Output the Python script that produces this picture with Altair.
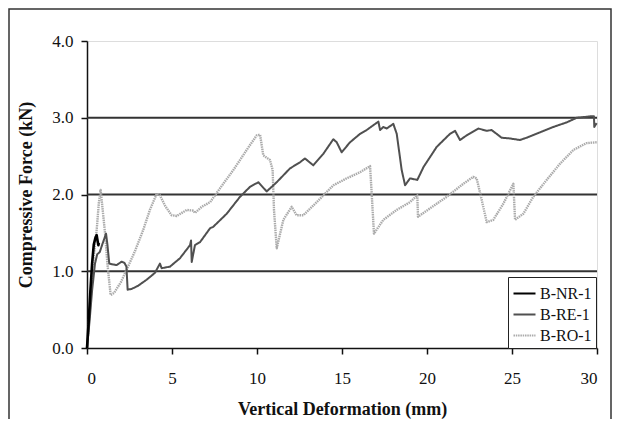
import altair as alt
import pandas as pd

# ---- data ----
nr_x = [0, 0.1, 0.2, 0.3, 0.4, 0.5, 0.57, 0.62, 0.67, 0.7]
nr_y = [0, 0.35, 0.75, 1.1, 1.35, 1.44, 1.47, 1.40, 1.34, 1.37]

re_x = [0, 0.15, 0.3, 0.47, 0.6, 0.75, 0.9, 1.12, 1.2, 1.31, 1.5, 1.74, 2.04, 2.2, 2.32, 2.39,
        2.63, 3.0, 3.51, 4.0, 4.29, 4.39, 4.88, 5.47, 6.06, 6.12, 6.16, 6.35, 6.65, 7.24, 7.43,
        8.22, 9.0, 9.59, 10.08, 10.57, 11.16, 11.94, 12.53, 12.82, 13.31, 13.9, 14.49, 14.69,
        14.98, 15.47, 16.06, 16.45, 17.14, 17.24, 17.43, 17.63, 18.02, 18.22, 18.51, 18.71,
        19.0, 19.43, 19.8, 20.57, 21.35, 21.65, 21.94, 22.33, 23.02, 23.51, 23.8, 24.39, 24.88,
        25.47, 25.86, 26.65, 27.43, 28.22, 28.81, 29.69, 29.82, 29.84, 29.98]
re_y = [0, 0.35, 0.75, 1.10, 1.22, 1.25, 1.35, 1.49, 1.35, 1.10, 1.09, 1.08, 1.125, 1.11, 1.06,
        0.76, 0.77, 0.81, 0.89, 0.98, 1.10, 1.04, 1.06, 1.17, 1.34, 1.40, 1.12, 1.34, 1.38,
        1.56, 1.58, 1.75, 1.97, 2.10, 2.16, 2.04, 2.16, 2.34, 2.42, 2.47, 2.38, 2.53, 2.72,
        2.68, 2.55, 2.68, 2.79, 2.84, 2.95, 2.84, 2.88, 2.86, 2.92, 2.79, 2.32, 2.12, 2.21,
        2.19, 2.36, 2.62, 2.79, 2.83, 2.71, 2.77, 2.86, 2.83, 2.84, 2.74, 2.73, 2.71, 2.74,
        2.81, 2.88, 2.94, 3.0, 3.02, 3.02, 2.88, 2.93]

ro_x = [0, 0.2, 0.4, 0.57, 0.7, 0.8, 0.9, 1.06, 1.2, 1.39, 1.6, 2.0, 2.33, 2.8, 3.31, 3.7,
        4.10, 4.29, 4.6, 4.98, 5.28, 5.87, 6.25, 6.35, 6.75, 7.24, 7.82, 8.61, 9.39, 9.98,
        10.18, 10.37, 10.76, 10.92, 11.0, 11.16, 11.55, 12.04, 12.33, 12.73, 13.51, 14.49,
        15.27, 16.06, 16.65, 16.75, 16.88, 17.43, 18.22, 19.0, 19.43, 19.47, 20.18, 21.16,
        22.14, 22.72, 22.92, 23.22, 23.51, 23.9, 24.49, 25.08, 25.18, 25.67, 26.25, 27.04,
        27.82, 28.61, 29.39, 29.98]
ro_y = [0, 0.6, 1.2, 1.54, 1.9, 2.06, 1.85, 1.50, 1.1, 0.69, 0.72, 0.86, 1.02, 1.25, 1.54,
        1.80, 2.01, 1.99, 1.85, 1.73, 1.72, 1.80, 1.79, 1.76, 1.84, 1.90, 2.08, 2.32, 2.58,
        2.77, 2.78, 2.51, 2.45, 2.32, 1.8, 1.30, 1.67, 1.84, 1.73, 1.73, 1.90, 2.12, 2.21,
        2.29, 2.37, 2.0, 1.49, 1.67, 1.80, 1.90, 1.99, 1.71, 1.82, 1.97, 2.14, 2.23, 2.21,
        1.93, 1.64, 1.67, 1.88, 2.14, 1.67, 1.75, 1.97, 2.19, 2.40, 2.58, 2.67, 2.68]

series_names = ["B-NR-1", "B-RE-1", "B-RO-1"]
series_colors = ["#000000", "#505050", "#ababab"]
series_dash = [[1, 0], [1, 0], [1.5, 0.8]]
grid_values = [1, 2, 3]
x_ticks = [0, 5, 10, 15, 20, 25, 30]
y_ticks = [0, 1, 2, 3, 4]

rows = []
for name, xs, ys in [("B-NR-1", nr_x, nr_y), ("B-RE-1", re_x, re_y), ("B-RO-1", ro_x, ro_y)]:
    for i, (a, b) in enumerate(zip(xs, ys)):
        rows.append({"series": name, "x": a, "y": b, "i": i})
df = pd.DataFrame(rows)

W, H = 510, 307
SERIF = "Liberation Serif, Times New Roman, DejaVu Serif, serif"

xscale = alt.Scale(domain=[0, 30], nice=False)
yscale = alt.Scale(domain=[0, 4], nice=False)
color = alt.Color("series:N", scale=alt.Scale(domain=series_names, range=series_colors),
                  legend=alt.Legend(title=None, orient="none", legendX=421, legendY=236,
                                    symbolType="stroke", symbolSize=484, symbolStrokeWidth=2.2,
                                    labelFont=SERIF, labelFontSize=16, labelColor="#111",
                                    strokeColor="#222", padding=4, rowPadding=0,
                                    labelOffset=3, fillColor="white"))
dash = alt.StrokeDash("series:N", scale=alt.Scale(domain=series_names, range=series_dash),
                      legend=None)

gdf = pd.DataFrame({"g": grid_values, "x0": [0] * 3, "x1": [30] * 3})
grid = alt.Chart(gdf).mark_rule(color="#333333", strokeWidth=2).encode(
    y=alt.Y("g:Q", scale=yscale), x=alt.X("x0:Q", scale=xscale), x2="x1:Q")

def line(name, width):
    return alt.Chart(df).transform_filter(alt.datum.series == name).mark_line(
        strokeWidth=width, strokeJoin="round").encode(
        x=alt.X("x:Q", scale=xscale,
                axis=alt.Axis(title="Vertical Deformation (mm)", values=x_ticks, grid=False,
                              domainColor="#111", domainWidth=1.5, tickColor="#111",
                              tickWidth=1.5, tickSize=6, labelFont=SERIF, labelFontSize=17,
                              labelColor="#111", labelPadding=16, titleFont=SERIF,
                              titleFontSize=18, titleFontWeight="bold", titleColor="#111",
                              titlePadding=14)),
        y=alt.Y("y:Q", scale=yscale,
                axis=alt.Axis(title="Compressive Force (kN)", values=y_ticks, format=".1f",
                              grid=False, domainColor="#111", domainWidth=1.5,
                              tickColor="#111", tickWidth=1.5, tickSize=6, labelFont=SERIF,
                              labelFontSize=17, labelColor="#111", labelPadding=8,
                              titleFont=SERIF, titleFontSize=18, titleFontWeight="bold",
                              titleColor="#111", titlePadding=16)),
        color=color,
        strokeDash=dash,
        order="i:Q",
    )

frame = alt.Chart(pd.DataFrame({"f": [0]})).mark_rect(
    fill=None, stroke="#333333", strokeWidth=1.5, clip=False).encode(
    x=alt.value(-78), y=alt.value(-32), x2=alt.value(W + 14), y2=alt.value(H + 120))

chart = alt.layer(frame, grid, line("B-RO-1", 2.4), line("B-RE-1", 2.0),
                  line("B-NR-1", 2.6)).properties(
    width=W, height=H,
    autosize=alt.AutoSizeParams(type="none"),
    padding={"left": 79, "top": 33, "right": 15, "bottom": 71},
).configure_view(stroke=None).configure(background="white")

chart.save("out.html", embed_options={"renderer": "svg", "actions": False})
